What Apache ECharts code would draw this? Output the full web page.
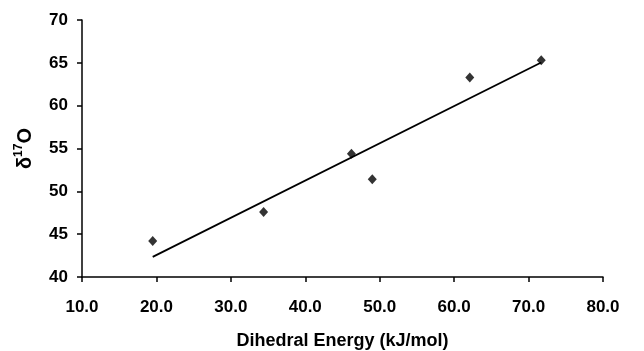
<!DOCTYPE html>
<html>
<head>
<meta charset="utf-8">
<script src="https://cdn.jsdelivr.net/npm/echarts@6/dist/echarts.min.js"></script>
<style>
  html, body { margin: 0; padding: 0; background: #fff; }
  #chart { width: 644px; height: 351px; }
</style>
</head>
<body>
<div id="chart"></div>
<script>
// data
const energy = [19.5, 34.4, 46.2, 49.0, 62.1, 71.7];
const shift = [44.2, 47.6, 54.4, 51.4, 63.3, 65.3];

// least squares trend line, drawn from min to max x
const n = energy.length;
const mx = energy.reduce((a, b) => a + b, 0) / n;
const my = shift.reduce((a, b) => a + b, 0) / n;
let sxy = 0, sxx = 0;
for (let i = 0; i < n; i++) {
  sxy += (energy[i] - mx) * (shift[i] - my);
  sxx += (energy[i] - mx) * (energy[i] - mx);
}
const slope = sxy / sxx;
const icept = my - slope * mx;
const xMin = Math.min(...energy);
const xMax = Math.max(...energy);
const trend = [
  [xMin, icept + slope * xMin],
  [xMax, icept + slope * xMax],
];

const font = "Liberation Sans, Arial, sans-serif";
const chart = echarts.init(document.getElementById("chart"));

chart.setOption({
  animation: false,
  backgroundColor: "#fff",
  grid: { left: 82, right: 41, top: 20, bottom: 74, outerBoundsMode: "none" },
  xAxis: {
    type: "value",
    min: 10,
    max: 80,
    interval: 10,
    name: "Dihedral Energy (kJ/mol)",
    nameLocation: "middle",
    nameGap: 55,
    nameTextStyle: { fontFamily: font, fontWeight: "bold", fontSize: 18, color: "#000" },
    axisLine: { lineStyle: { color: "#000", width: 1.5 } },
    axisTick: { length: 5, lineStyle: { color: "#000", width: 1.5 } },
    axisLabel: {
      margin: 22,
      fontFamily: font,
      fontWeight: "bold",
      fontSize: 17,
      color: "#000",
      formatter: (v) => v.toFixed(1),
    },
    splitLine: { show: false },
  },
  yAxis: {
    type: "value",
    min: 40,
    max: 70,
    interval: 5,
    name: "{a|δ}{b|17}{a|O}",
    nameLocation: "middle",
    nameRotate: 90,
    nameGap: 45,
    nameTextStyle: {
      rich: {
        a: { fontFamily: font, fontWeight: "bold", fontSize: 20, color: "#000", lineHeight: 24 },
        b: { fontFamily: font, fontWeight: "bold", fontSize: 12, color: "#000", verticalAlign: "top", lineHeight: 24 },
      },
    },
    axisLine: { show: true, lineStyle: { color: "#000", width: 1.5 } },
    axisTick: { show: true, length: 5, lineStyle: { color: "#000", width: 1.5 } },
    axisLabel: {
      margin: 14,
      fontFamily: font,
      fontWeight: "bold",
      fontSize: 17,
      color: "#000",
    },
    splitLine: { show: false },
  },
  series: [
    {
      type: "line",
      data: trend,
      symbol: "none",
      lineStyle: { color: "#000", width: 1.8 },
      z: 2,
    },
    {
      type: "scatter",
      data: energy.map((x, i) => [x, shift[i]]),
      symbol: "diamond",
      symbolSize: [9, 10],
      itemStyle: { color: "#000" },
      z: 3,
    },
  ],
});
</script>
</body>
</html>
